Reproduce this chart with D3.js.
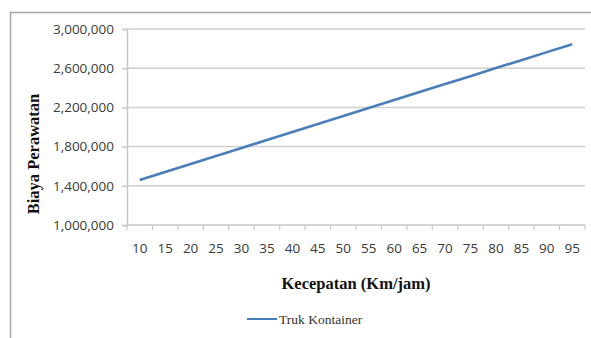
<!DOCTYPE html>
<html>
<head>
<meta charset="utf-8">
<script src="https://cdn.jsdelivr.net/npm/d3@7"></script>
<style>
  html, body { margin: 0; padding: 0; background: #fff; }
  svg { display: block; }
</style>
</head>
<body>
<svg id="chart" width="591" height="338"></svg>
<script>
// Kecepatan (km/jam) categories
const speeds = [10, 15, 20, 25, 30, 35, 40, 45, 50, 55, 60, 65, 70, 75, 80, 85, 90, 95];
// Biaya perawatan for Truk Kontainer
const costs = [1460000, 1541000, 1623000, 1704000, 1786000, 1867000, 1949000, 2030000, 2112000,
               2193000, 2275000, 2356000, 2438000, 2519000, 2601000, 2682000, 2764000, 2845000];
const yTicks = [1000000, 1400000, 1800000, 2200000, 2600000, 3000000];
const seriesName = "Truk Kontainer";

const svg = d3.select("#chart");
const W = 591, H = 338;
const plot = { left: 127, right: 585, top: 29, bottom: 225 };

// Outer chart frame
svg.append("rect")
  .attr("x", 10.5).attr("y", 12.5)
  .attr("width", W + 20).attr("height", H + 20)
  .attr("fill", "#fff").attr("stroke", "#a6a6a6").attr("stroke-width", 1.5);

const x = d3.scaleBand().domain(speeds).range([plot.left, plot.right]).paddingInner(0).paddingOuter(0);
const y = d3.scaleLinear().domain([1000000, 3000000]).range([plot.bottom, plot.top]);

// Horizontal gridlines
svg.append("g")
  .selectAll("line")
  .data(yTicks.filter(d => d !== 1000000))
  .join("line")
  .attr("x1", plot.left).attr("x2", plot.right)
  .attr("y1", d => y(d)).attr("y2", d => y(d))
  .attr("stroke", "#d0d0d0").attr("stroke-width", 1.5);

// Y axis
const yAxis = svg.append("g")
  .attr("transform", `translate(${plot.left},0)`)
  .call(d3.axisLeft(y).tickValues(yTicks).tickSize(5).tickPadding(8).tickFormat(d3.format(",")));
yAxis.select(".domain").attr("stroke", "#c8c8c8").attr("stroke-width", 1.5);
yAxis.selectAll(".tick line").attr("stroke", "#c8c8c8").attr("stroke-width", 1.5);
yAxis.selectAll("text")
  .attr("font-family", "'Open Sans', sans-serif").attr("font-size", 13.5)
  .attr("fill", "#3a3a3a");

// X axis: ticks between categories
const xAxisG = svg.append("g").attr("transform", `translate(0,${plot.bottom})`);
xAxisG.append("line")
  .attr("x1", plot.left).attr("x2", plot.right)
  .attr("y1", 0).attr("y2", 0)
  .attr("stroke", "#c8c8c8").attr("stroke-width", 1.5);
const boundaries = speeds.map(d => x(d)).concat([x(speeds[speeds.length - 1]) + x.bandwidth()]);
xAxisG.selectAll("line.tick")
  .data(boundaries)
  .join("line")
  .attr("class", "tick")
  .attr("x1", d => d).attr("x2", d => d)
  .attr("y1", 0).attr("y2", 5)
  .attr("stroke", "#c8c8c8").attr("stroke-width", 1.2);
xAxisG.selectAll("text")
  .data(speeds)
  .join("text")
  .attr("x", d => x(d) + x.bandwidth() / 2)
  .attr("y", 28)
  .attr("text-anchor", "middle")
  .attr("font-family", "'Open Sans', sans-serif").attr("font-size", 13.5)
  .attr("fill", "#3a3a3a")
  .text(d => d);

// Series line
const line = d3.line()
  .x((d, i) => x(speeds[i]) + x.bandwidth() / 2)
  .y(d => y(d));
svg.append("path")
  .datum(costs)
  .attr("d", line)
  .attr("fill", "none")
  .attr("stroke", "#4a7ebb")
  .attr("stroke-width", 2.6);

// Axis titles
svg.append("text")
  .attr("transform", "translate(39,154) rotate(-90)")
  .attr("text-anchor", "middle")
  .attr("font-family", "'Liberation Serif', serif").attr("font-weight", "bold")
  .attr("font-size", 16.5).attr("fill", "#111")
  .text("Biaya Perawatan");
svg.append("text")
  .attr("x", 356).attr("y", 289)
  .attr("text-anchor", "middle")
  .attr("font-family", "'Liberation Serif', serif").attr("font-weight", "bold")
  .attr("font-size", 16.5).attr("fill", "#111")
  .text("Kecepatan (Km/jam)");

// Legend
const legend = svg.append("g");
legend.append("line")
  .attr("x1", 247).attr("x2", 277).attr("y1", 319).attr("y2", 319)
  .attr("stroke", "#4a7ebb").attr("stroke-width", 2);
legend.append("text")
  .attr("x", 279).attr("y", 324)
  .attr("font-family", "'Liberation Serif', serif").attr("font-size", 13.5)
  .attr("fill", "#333")
  .text(seriesName);
</script>
</body>
</html>
